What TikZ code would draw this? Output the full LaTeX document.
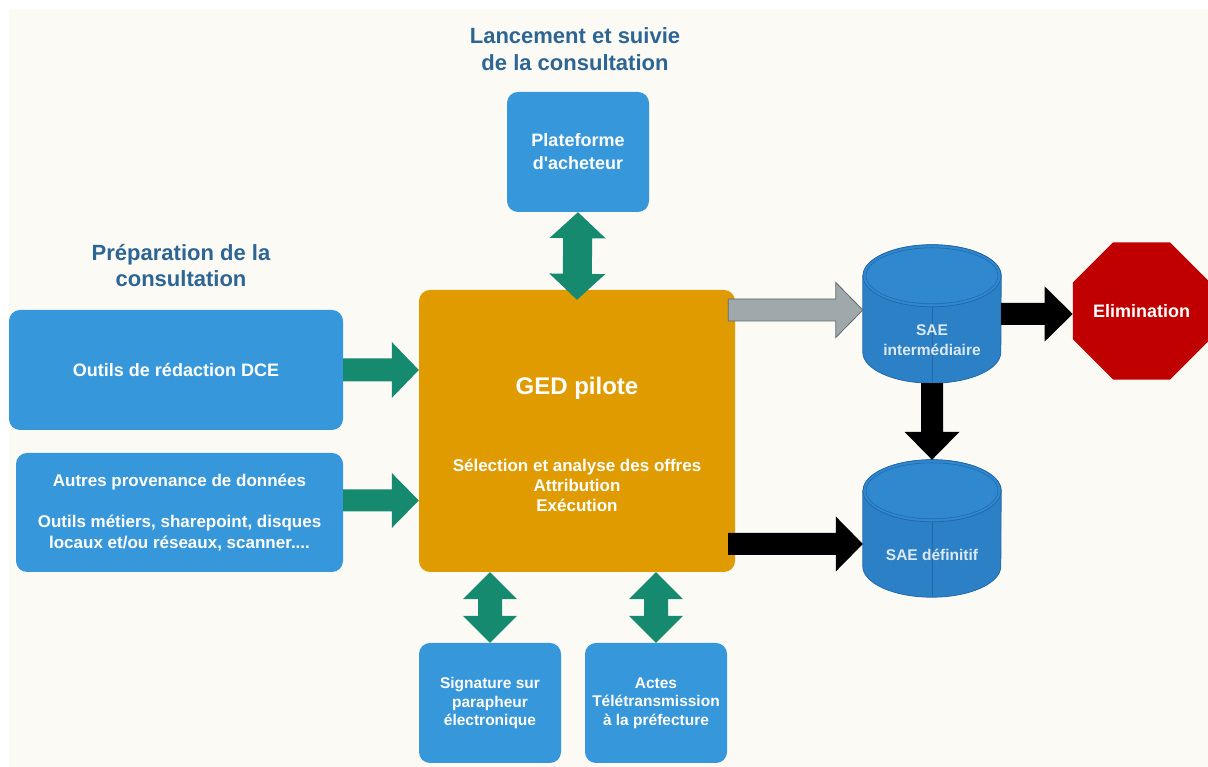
\documentclass[tikz,border=0pt]{standalone}
\usepackage{fontspec}
\setmainfont{Liberation Sans}[Ligatures=TeXOff]
\usetikzlibrary{calc,shapes.geometric}

\definecolor{paper}{HTML}{FCFAF5}
\definecolor{boxblue}{HTML}{3797DB}
\definecolor{gedorange}{HTML}{E09B00}
\definecolor{flowgreen}{HTML}{168A6F}
\definecolor{titleblue}{HTML}{2D6594}
\definecolor{cylbody}{HTML}{2C80C6}
\definecolor{cylface}{HTML}{3088CE}
\definecolor{cylrim}{HTML}{2169AC}
\definecolor{cyltextcol}{HTML}{DCE8F3}
\definecolor{stopred}{HTML}{C00000}
\definecolor{greyfill}{HTML}{9FA8AB}
\definecolor{greyline}{HTML}{5E6A6F}

% block arrow: #1 style, #2 tail, #3 tip, #4 shaft half-width, #5 head half-width, #6 head length
\newcommand\fatarrow[6]{%
  \path (#2) coordinate (fa-a) (#3) coordinate (fa-b);
  \path ($(fa-b)!#6!(fa-a)$) coordinate (fa-p);
  \path[#1] ($(fa-a)!#4!90:(fa-b)$) -- ($(fa-p)!#4!90:(fa-b)$)
    -- ($(fa-p)!#5!90:(fa-b)$) -- (fa-b) -- ($(fa-p)!#5!-90:(fa-b)$)
    -- ($(fa-p)!#4!-90:(fa-b)$) -- ($(fa-a)!#4!-90:(fa-b)$) -- cycle;
}
% block arrow with a head at both ends
\newcommand\fatdoublearrow[6]{%
  \path (#2) coordinate (fa-a) (#3) coordinate (fa-b);
  \path ($(fa-a)!#6!(fa-b)$) coordinate (fa-p) ($(fa-b)!#6!(fa-a)$) coordinate (fa-q);
  \path[#1] (fa-a) -- ($(fa-p)!#5!90:(fa-b)$) -- ($(fa-p)!#4!90:(fa-b)$)
    -- ($(fa-q)!#4!-90:(fa-a)$) -- ($(fa-q)!#5!-90:(fa-a)$) -- (fa-b)
    -- ($(fa-q)!#5!90:(fa-a)$) -- ($(fa-q)!#4!90:(fa-a)$)
    -- ($(fa-p)!#4!-90:(fa-b)$) -- ($(fa-p)!#5!-90:(fa-b)$) -- cycle;
}
% storage cylinder drawn inside the bounds of a named node
\newcommand\drawcylinder[1]{%
  \path[fill=cylbody, draw=cylrim, line width=0.8pt]
    ([yshift=-31pt]#1.north west) -- ([yshift=31pt]#1.south west)
    arc[start angle=180, end angle=360, x radius=69pt, y radius=31pt]
    -- ([yshift=-31pt]#1.north east)
    arc[start angle=0, end angle=180, x radius=69pt, y radius=31pt] -- cycle;
  \path[fill=cylface, draw=cylrim, line width=0.8pt]
    ([yshift=-31pt]#1.north) ellipse[x radius=69pt, y radius=31pt];
  \draw[cylrim, line width=0.6pt]
    ([yshift=-31pt]#1.north) ellipse[x radius=66pt, y radius=28pt];
  \draw[cylrim, line width=0.6pt] ([yshift=-62pt]#1.north) -- (#1.south);
}

\tikzset{
  box/.style={fill=boxblue, rounded corners=11pt, text=white, align=center,
    inner sep=0pt, font=\bfseries},
  titletext/.style={text=titleblue, align=center,
    font=\bfseries\fontsize{22}{26.5}\selectfont},
  cylnode/.style={inner sep=0pt, minimum width=138pt},
  cyltext/.style={text=cyltextcol, align=center,
    font=\bfseries\fontsize{15.5}{20}\selectfont},
  greenarrow/.style={fill=flowgreen},
  blackarrow/.style={fill=black},
  greyarrow/.style={fill=greyfill, draw=greyline, line width=0.8pt},
}

\begin{document}
\begin{tikzpicture}[x=1pt, y=1pt]
  \useasboundingbox (0,0) rectangle (1208,767);
  \fill[white] (0,0) rectangle (1208,767);
  \fill[paper] (9,0) rectangle (1208,758);

  % section titles
  \node[titletext] (titlelaunch) at (575,718) {Lancement et suivie\\de la consultation};
  \node[titletext] (titleprep) at (181,501.5) {Préparation de la\\consultation};

  % process boxes
  \node[box, minimum width=142pt, minimum height=120pt,
        font=\bfseries\fontsize{18}{23}\selectfont] (plat) at (578,615)
        {Plateforme\\d'acheteur};
  \node[box, minimum width=334pt, minimum height=120pt,
        font=\bfseries\fontsize{18}{23}\selectfont] (dce) at (176,397)
        {Outils de rédaction DCE};
  \node[box, minimum width=327pt, minimum height=119pt,
        font=\bfseries\fontsize{17}{20.5}\selectfont] (autres) at (179.5,254.5)
        {Autres provenance de données\\[20.5pt]Outils métiers, sharepoint, disques\\locaux et/ou réseaux, scanner....};
  \node[fill=gedorange, rounded corners=11pt, minimum width=316pt,
        minimum height=282pt, inner sep=0pt] (ged) at (577,336) {};
  \node[text=white, font=\bfseries\fontsize{24}{28}\selectfont] (gedtitle)
        at ([yshift=43pt]ged.center) {GED pilote};
  \node[text=white, align=center, font=\bfseries\fontsize{17}{20}\selectfont] (gedtasks)
        at ([yshift=-54pt]ged.center)
        {Sélection et analyse des offres\\Attribution\\Exécution};
  \node[box, minimum width=142pt, minimum height=120pt,
        font=\bfseries\fontsize{15.5}{18.5}\selectfont] (sig) at (490,64)
        {Signature sur\\parapheur\\électronique};
  \node[box, minimum width=142pt, minimum height=120pt,
        font=\bfseries\fontsize{15.5}{18.5}\selectfont] (actes) at (656,64)
        {Actes\\Télétransmission\\à la préfecture};

  % archive storages
  \node[cylnode, minimum height=138pt] (sae1) at (932,453) {};
  \node[cylnode, minimum height=137pt] (sae2) at (932,238.5) {};
  \drawcylinder{sae1}
  \drawcylinder{sae2}
  \node[cyltext] (sae1text) at ([yshift=-26pt]sae1.center) {SAE\\intermédiaire};
  \node[cyltext] (sae2text) at ([yshift=-26pt]sae2.center) {SAE définitif};

  % disposal
  \node[regular polygon, regular polygon sides=8, minimum size=144pt, inner sep=0pt,
        fill=stopred, text=white, font=\bfseries\fontsize{18}{22}\selectfont]
        (elim) at (1141.5,456) {Elimination};

  % inputs into the pilot
  \fatarrow{greenarrow}{dce.east}{dce.east -| ged.west}{11.5pt}{28pt}{27pt}
  \coordinate (autresout) at ($(autres.east)+(0,12)$);
  \fatarrow{greenarrow}{autresout}{autresout -| ged.west}{11pt}{27.5pt}{27pt}

  % two-way exchanges
  \coordinate (platin) at ($(ged.north)+(0,-10)$);
  \fatdoublearrow{greenarrow}{plat.south}{platin}{14.5pt}{28pt}{26pt}
  \fatdoublearrow{greenarrow}{sig.north |- ged.south}{sig.north}{12pt}{27pt}{27pt}
  \fatdoublearrow{greenarrow}{actes.north |- ged.south}{actes.north}{12pt}{27pt}{27pt}

  % archiving flows
  \coordinate (gedtosae1) at ($(ged.east |- sae1.west)+(-7,4)$);
  \fatarrow{greyarrow}{gedtosae1}{gedtosae1 -| sae1.west}{11pt}{27.5pt}{27pt}
  \coordinate (gedtosae2) at ($(ged.east |- sae2.west)+(-7,-15.5)$);
  \fatarrow{blackarrow}{gedtosae2}{gedtosae2 -| sae2.west}{11pt}{27.5pt}{27pt}
  \fatarrow{blackarrow}{sae1.east}{sae1.east -| elim.west}{11pt}{27.5pt}{28pt}
  \fatarrow{blackarrow}{sae1.south}{sae2.north}{11pt}{27.5pt}{28pt}
\end{tikzpicture}
\end{document}
